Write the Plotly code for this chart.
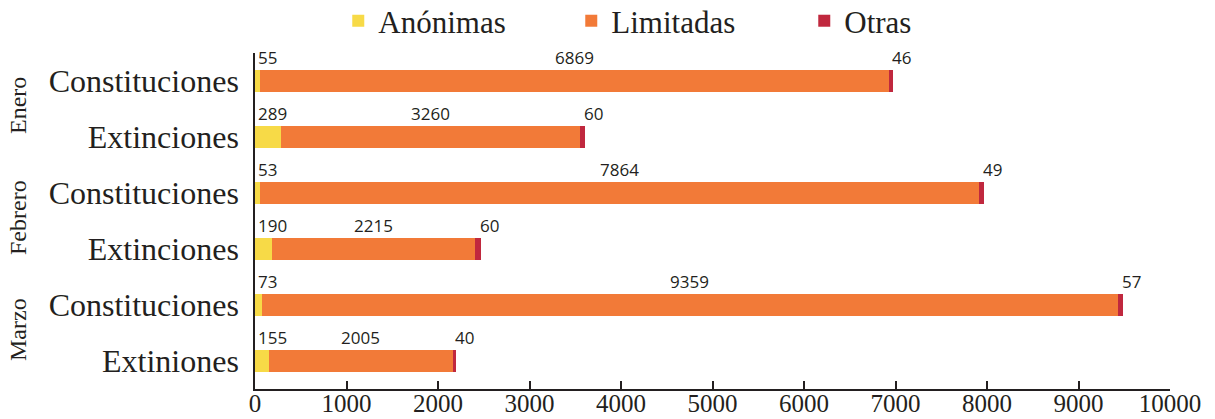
import plotly.graph_objects as go

months = ["Enero", "Febrero", "Marzo"]
row_labels = ["Constituciones", "Extinciones", "Constituciones", "Extinciones", "Constituciones", "Extiniones"]
row_month = ["Enero", "Enero", "Febrero", "Febrero", "Marzo", "Marzo"]
anonimas = [55, 289, 53, 190, 73, 155]
limitadas = [6869, 3260, 7864, 2215, 9359, 2005]
otras = [46, 60, 49, 60, 57, 40]
x_ticks = [0, 1000, 2000, 3000, 4000, 5000, 6000, 7000, 8000, 9000, 10000]

series = [("Anónimas", anonimas, "#F7DA47"),
          ("Limitadas", limitadas, "#F27A38"),
          ("Otras", otras, "#C0283E")]

ypos = list(range(len(row_labels)))
TXT = "#231F20"
SERIF = "Liberation Serif"
SANS = "Open Sans"

fig = go.Figure()
for name, vals, col in series:
    fig.add_trace(go.Bar(
        y=ypos, x=vals, name=name, orientation="h",
        marker=dict(color=col, line=dict(width=0)),
        width=0.4, hoverinfo="x+name",
    ))

annotations = []
for i in ypos:
    a, l, o = anonimas[i], limitadas[i], otras[i]
    common = dict(xref="x", yref="y", y=i, yanchor="middle", yshift=24,
                  showarrow=False, font=dict(family=SANS, size=17, color=TXT))
    annotations.append(dict(x=0, text=str(a), xanchor="left", xshift=1, **common))
    annotations.append(dict(x=a + l / 2, text=str(l), xanchor="center", **common))
    annotations.append(dict(x=a + l + o, text=str(o), xanchor="left", xshift=-3, **common))

for k, m in enumerate(months):
    idx = [i for i, mm in enumerate(row_month) if mm == m]
    yc = sum(idx) / len(idx)
    annotations.append(dict(xref="paper", yref="y", x=0, xshift=-237, y=yc,
                            text=m, textangle=-90, showarrow=False,
                            xanchor="center", yanchor="middle", yshift=3,
                            font=dict(family=SERIF, size=24, color=TXT)))

fig.update_layout(
    width=1215, height=419,
    margin=dict(l=255, r=45, t=53, b=30, autoexpand=False),
    paper_bgcolor="white", plot_bgcolor="white",
    barmode="stack",
    bargap=0.6,
    font=dict(family=SERIF, color=TXT),
    legend=dict(orientation="h", x=0.091, xanchor="left", y=1.095, yanchor="middle",
                traceorder="normal",
                font=dict(family=SERIF, size=31, color=TXT),
                entrywidth=188, entrywidthmode="pixels",
                itemclick=False, itemdoubleclick=False),
    annotations=annotations,
    xaxis=dict(range=[0, 10000], tickvals=x_ticks, ticktext=[str(v) for v in x_ticks],
               showgrid=False, zeroline=False, showline=True, linecolor=TXT, linewidth=1.5,
               ticks="inside", ticklen=8, tickwidth=1.5, tickcolor=TXT,
               ticklabelstandoff=-9,
               tickfont=dict(family=SERIF, size=25, color=TXT), fixedrange=True),
    yaxis=dict(range=[len(row_labels) - 0.5, -0.5], tickvals=ypos, ticktext=row_labels,
               showgrid=False, zeroline=False, showline=True, linecolor=TXT, linewidth=1.5,
               ticks="", ticklabelstandoff=8,
               tickfont=dict(family=SERIF, size=32, color=TXT), fixedrange=True),
)

fig.write_html("out.html", config={"displayModeBar": False})
